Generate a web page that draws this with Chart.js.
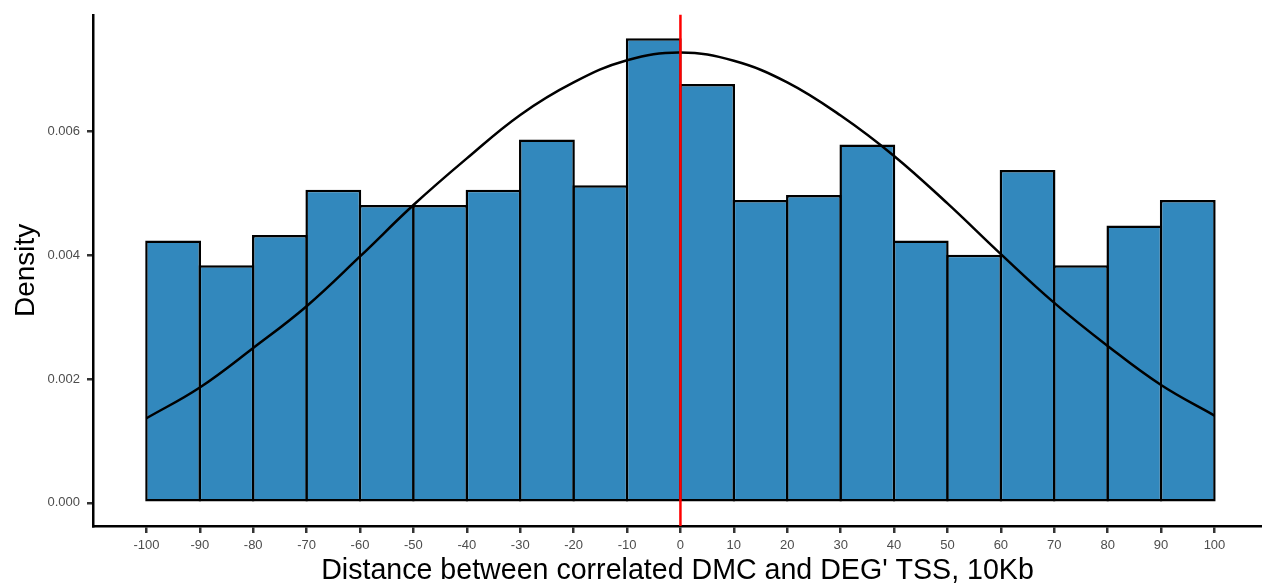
<!DOCTYPE html>
<html><head><meta charset="utf-8">
<script src="https://cdn.jsdelivr.net/npm/chart.js@4.4.1/dist/chart.umd.min.js"></script>
<style>html,body{margin:0;padding:0;background:#fff;overflow:hidden}#wrap{width:1262px;height:586px;position:relative}</style>
</head><body><div id="wrap"><canvas id="c" width="1262" height="586"></canvas></div>
<script>
// Histogram bins (left edges), bin width and densities
const binStarts = [-100,-90,-80,-70,-60,-50,-40,-30,-20,-10,0,10,20,30,40,50,60,70,80,90];
const binWidth = 10;
const densities = [0.004234,0.003837,0.004325,0.005053,0.004807,0.004807,0.005053,0.005867,0.005128,0.007498,
                   0.006760,0.004887,0.004968,0.005786,0.004234,0.004004,0.005374,0.003837,0.004475,0.004887];
// Fitted density curve points
const curveX = [-100,-90,-80,-70,-60,-50,-40,-30,-20,-10,0,10,20,30,40,50,60,70,80,90,100];
const curveY = [0.001365,0.001862,0.002500,0.003174,0.003977,0.004807,0.005560,0.006262,0.006787,0.007145,0.007268,
                0.007135,0.006787,0.006252,0.005600,0.004833,0.004014,0.003227,0.002532,0.001901,0.001408];
// Tick labels
const xTickValues = [-100,-90,-80,-70,-60,-50,-40,-30,-20,-10,0,10,20,30,40,50,60,70,80,90,100];
const yTickValues = [0,0.002,0.004,0.006];
const refLineX = 0;
const xTitle = "Distance between correlated DMC and DEG' TSS, 10Kb";
const yTitle = "Density";

const FONT = "'Liberation Sans', Arial, Helvetica, sans-serif";

const vlinePlugin = {
  id: 'vline',
  afterDatasetsDraw(chart) {
    const {ctx, chartArea, scales} = chart;
    const x = scales.x.getPixelForValue(refLineX);
    ctx.save();
    ctx.strokeStyle = '#ff0000';
    ctx.lineWidth = 2.5;
    ctx.beginPath();
    ctx.moveTo(x, chartArea.top);
    ctx.lineTo(x, chartArea.bottom);
    ctx.stroke();
    ctx.restore();
  }
};

new Chart(document.getElementById('c'), {
  type: 'bar',
  data: {
    datasets: [
      {
        type: 'line',
        data: curveX.map((x, i) => ({x, y: curveY[i]})),
        borderColor: '#000',
        borderWidth: 2.5,
        pointRadius: 0,
        fill: false,
        tension: 0.4,
        order: 1
      },
      {
        type: 'bar',
        data: binStarts.map((s, i) => ({x: s + binWidth / 2, y: densities[i]})),
        backgroundColor: '#3288bd',
        borderColor: '#000',
        borderWidth: 2.5,
        borderSkipped: false,
        barPercentage: 1.045,
        categoryPercentage: 1,
        order: 2
      }
    ]
  },
  options: {
    responsive: false,
    animation: false,
    layout: {padding: {top: 12, right: 0, left: 0, bottom: 0}},
    plugins: {legend: {display: false}, tooltip: {enabled: false}},
    scales: {
      x: {
        type: 'linear',
        offset: false,
        min: -110,
        max: 108.9,
        afterBuildTicks: s => { s.ticks = xTickValues.map(v => ({value: v})); },
        afterFit: s => { s.height = 60; },
        ticks: {autoSkip: false, maxRotation: 0, color: '#4d4d4d', padding: 5,
                font: {family: FONT, size: 13}, callback: v => String(v)},
        grid: {offset: false, drawOnChartArea: false, drawTicks: true, tickLength: 7, color: '#333', lineWidth: 2.5},
        border: {display: true, color: '#000', width: 2.5},
        title: {display: true, text: xTitle, color: '#000', font: {family: FONT, size: 28.6}, padding: {top: 0, bottom: -2}}
      },
      y: {
        type: 'linear',
        min: -0.000374,
        max: 0.007878,
        afterBuildTicks: s => { s.ticks = yTickValues.map(v => ({value: v})); },
        afterFit: s => { s.width = 93; },
        ticks: {color: '#4d4d4d', padding: 7, font: {family: FONT, size: 13}, callback: v => v.toFixed(3)},
        grid: {drawOnChartArea: false, drawTicks: true, tickLength: 6, color: '#333', lineWidth: 2.5},
        border: {display: true, color: '#000', width: 2.5},
        title: {display: true, text: yTitle, color: '#000', font: {family: FONT, size: 28}, padding: {top: 9, bottom: 0}}
      }
    }
  },
  plugins: [vlinePlugin]
});
</script>
</body></html>
